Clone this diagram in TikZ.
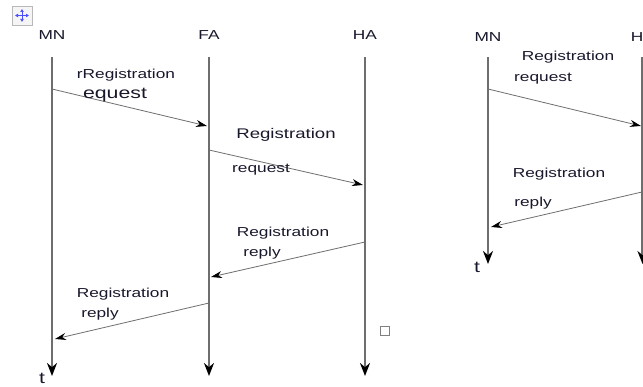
\documentclass[tikz,border=0pt]{standalone}
\usepackage{fontspec}
\setmainfont{Liberation Sans}[FakeStretch=1.33]
\usetikzlibrary{arrows.meta}
\definecolor{ink}{HTML}{18182C}
\definecolor{wire}{HTML}{6E6E6E}

\begin{document}
\begin{tikzpicture}[x=1pt,y=-1pt]
\tikzstyle{every node}=[text=ink,inner sep=0pt,font=\fontsize{13}{15}\selectfont]
\tikzstyle{lifeline}=[draw=wire,line width=2.2pt,-{Stealth[length=13pt,width=10pt,black]}]
\tikzstyle{msg}=[draw=wire,line width=0.8pt,-{Stealth[length=11pt,width=7pt,black]}]
\tikzstyle{axis}=[font=\fontsize{16}{18}\selectfont]
\def \ytop {57}
\def \yend {376}
\def \yendr {264}
\useasboundingbox (0,0) rectangle (643,387);

% move handle and small box
\draw[gray!55,fill=gray!8] (12,6) rectangle (32,25);
\draw[blue!70,line width=1pt,{Latex[length=3pt,width=4pt]}-{Latex[length=3pt,width=4pt]}] (15,15.5) -- (29,15.5);
\draw[blue!70,line width=1pt,{Latex[length=3pt,width=4pt]}-{Latex[length=3pt,width=4pt]}] (22,9) -- (22,22);
\draw[gray,line width=0.8pt] (380,326) rectangle (389,335);

% lifelines
\path
  ( 52,35) node (mn)  {MN}
  (209,35) node (fa)  {FA}
  (365,35) node (ha)  {HA}
  (488,37) node (mn2) {MN}
  (643,37) node (ha2) {HA}
  ( 42,378) node [axis] (t)  {t}
  (477,267) node [axis] (t2) {t}
;
\path
  ( 52,\ytop) coordinate (mn-top)  ( 52,\yend)  coordinate (mn-end)
  (209,\ytop) coordinate (fa-top)  (209,\yend)  coordinate (fa-end)
  (365,\ytop) coordinate (ha-top)  (365,\yend)  coordinate (ha-end)
  (488,\ytop) coordinate (mn2-top) (488,\yendr) coordinate (mn2-end)
  (642.5,\ytop) coordinate (ha2-top) (642.5,\yendr) coordinate (ha2-end)
;
\draw[lifeline] (mn-top)  -- (mn-end);
\draw[lifeline] (fa-top)  -- (fa-end);
\draw[lifeline] (ha-top)  -- (ha-end);
\draw[lifeline] (mn2-top) -- (mn2-end);
\draw[lifeline] (ha2-top) -- (ha2-end);

% messages
\path
  ( 52, 89) coordinate (mn-1)  (207,126) coordinate (fa-1)
  (209,150) coordinate (fa-2)  (363,185) coordinate (ha-2)
  (365,242) coordinate (ha-3)  (211,277) coordinate (fa-3)
  (209,303) coordinate (fa-4)  ( 55,339) coordinate (mn-4)
  (488, 89) coordinate (mn2-1) (641,126) coordinate (ha2-1)
  (642,192) coordinate (ha2-2) (491,227) coordinate (mn2-2)
;
\draw[msg] (mn-1)  -- (fa-1);
\draw[msg] (fa-2)  -- (ha-2);
\draw[msg] (ha-3)  -- (fa-3);
\draw[msg] (fa-4)  -- (mn-4);
\draw[msg] (mn2-1) -- (ha2-1);
\draw[msg] (ha2-2) -- (mn2-2);

% labels
\node (req1a) at (126, 75) {rRegistration};
\node[font=\fontsize{16}{18}\selectfont] (req1b) at (115, 95) {equest};
\node[font=\fontsize{14}{16}\selectfont] (req2a) at (286,135) {Registration};
\node (req2b) at (261,170) {request};
\node (rep1a) at (283,233) {Registration};
\node (rep1b) at (262,253) {reply};
\node (rep2a) at (123,294) {Registration};
\node (rep2b) at (100,314) {reply};
\node (req3a) at (568, 57) {Registration};
\node (req3b) at (543, 79) {request};
\node (rep3a) at (559,174) {Registration};
\node (rep3b) at (533,203) {reply};
\end{tikzpicture}
\end{document}
